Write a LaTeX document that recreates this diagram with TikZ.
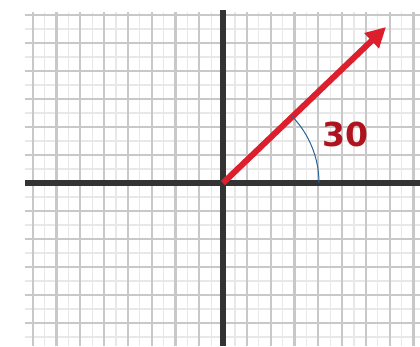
\documentclass[tikz,border=0pt]{standalone}
\usepackage{fontspec}
\newfontfamily\labelfont{DejaVu Sans}
\usetikzlibrary{arrows.meta}
\definecolor{gridgray}{RGB}{200,200,200}
\definecolor{minorgray}{RGB}{232,232,232}
\definecolor{vecred}{RGB}{220,30,45}
\definecolor{labelred}{RGB}{175,20,30}
\definecolor{arcblue}{RGB}{45,100,150}

\begin{document}
\begin{tikzpicture}[x=1pt, y=-1pt,
    gridline/.style={draw=gridgray, line width=2.2pt},
    minorline/.style={draw=minorgray, line width=1.2pt},
    axisline/.style={draw=black!80, line width=5.5pt},
    vec/.style={draw=vecred, line width=6pt, -{Triangle[length=20pt, width=20pt]}},
    anglearc/.style={draw=arcblue, line width=1pt},
]
  \useasboundingbox (0,0) rectangle (420,346);
  \fill[white] (0,0) rectangle (420,346);
  \clip (0,0) rectangle (420,346);

  % grid
  \foreach \i in {-8,...,8}
    \draw[minorline] ({223+23.8*\i+11.9},12) -- ({223+23.8*\i+11.9},346);
  \foreach \j in {-6,...,5}
    \draw[minorline] (25,{183+28*\j+14}) -- (420,{183+28*\j+14});
  \foreach \i in {-8,...,8}
    \draw[gridline] ({223+23.8*\i},12) -- ({223+23.8*\i},346);
  \foreach \j in {-6,...,5}
    \draw[gridline] (25,{183+28*\j}) -- (420,{183+28*\j});

  % axes
  \coordinate (O) at (223,183);
  \coordinate (xend) at (420,183);
  \coordinate (xstart) at (25,183);
  \coordinate (ytop) at (223,10);
  \coordinate (ybot) at (223,346);
  \draw[axisline] (xstart) -- (xend);
  \draw[axisline] (ytop) -- (ybot);

  % vector and angle
  \coordinate (T) at (386,27);
  \draw[vec] (O) -- (T);
  \draw[anglearc] ([shift={(0:96)}]O) arc[start angle=0, end angle=-44, radius=96];
  \node[font=\labelfont\bfseries\fontsize{33}{33}\selectfont, text=labelred] (lbl) at (345,134) {30};
\end{tikzpicture}
\end{document}
